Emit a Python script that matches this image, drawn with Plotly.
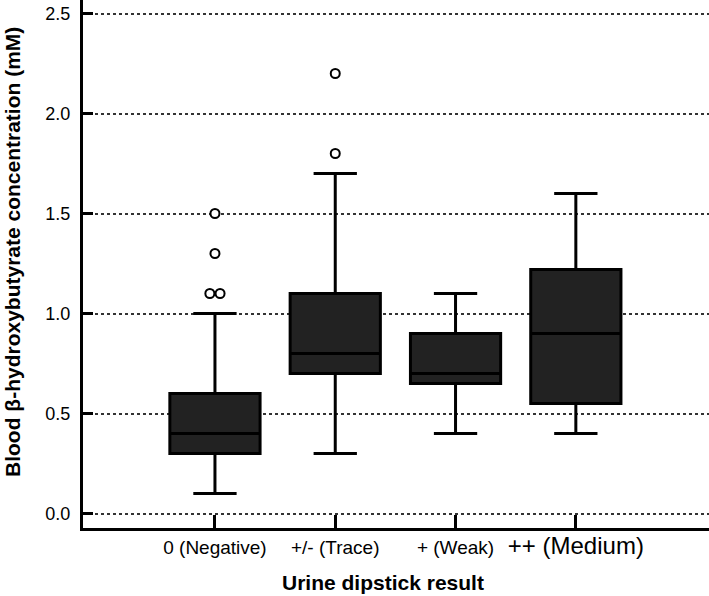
import plotly.graph_objects as go

categories = ["0 (Negative)", "+/- (Trace)", "+ (Weak)", "++ (Medium)"]
q1 = [0.30, 0.70, 0.65, 0.55]
median = [0.40, 0.80, 0.70, 0.90]
q3 = [0.60, 1.10, 0.90, 1.22]
lower_whisker = [0.10, 0.30, 0.40, 0.40]
upper_whisker = [1.00, 1.70, 1.10, 1.60]
outliers = [[1.1, 1.1, 1.3, 1.5], [1.8, 2.2], [], []]
y_ticks = [0.0, 0.5, 1.0, 1.5, 2.0, 2.5]

FONT = "Liberation Sans, Arial, sans-serif"
positions = list(range(len(categories)))
# the last label is set in a larger type in the original figure
tick_labels = categories[:-1] + [f"<span style='font-size:24px'>{categories[-1]}</span>"]

fig = go.Figure()
fig.add_trace(go.Box(
    x=positions,
    q1=q1, median=median, q3=q3,
    lowerfence=lower_whisker, upperfence=upper_whisker,
    width=0.75, whiskerwidth=0.48,
    fillcolor="#222222",
    line=dict(color="#000000", width=3),
    boxpoints=False,
    showlegend=False,
    hoverinfo="skip",
))

# outliers, dodging equal values side by side
ox, oy = [], []
for i, vals in enumerate(outliers):
    for v in sorted(set(vals)):
        n = vals.count(v)
        for k in range(n):
            ox.append(i + (k - (n - 1) / 2) * 0.085)
            oy.append(v)
fig.add_trace(go.Scatter(
    x=ox, y=oy, mode="markers",
    marker=dict(symbol="circle", size=9, color="white",
                line=dict(color="black", width=2)),
    showlegend=False, hoverinfo="skip",
))

fig.update_layout(
    width=709, height=596,
    margin=dict(l=83, r=0, t=0, b=68),
    plot_bgcolor="white", paper_bgcolor="white",
    font=dict(family=FONT, size=19, color="black"),
)
fig.update_xaxes(
    range=[-1.097, 4.107], automargin=False,
    tickmode="array", tickvals=positions, ticktext=tick_labels,
    tickangle=0,
    showline=True, linecolor="black", linewidth=3,
    ticks="inside", ticklen=13, tickwidth=3, tickcolor="black",
    showgrid=False, zeroline=False,
    tickfont=dict(family=FONT, size=19),
)
fig.update_yaxes(
    range=[-0.0725, 2.5675], automargin=False,
    tickmode="array", tickvals=y_ticks, ticktext=[f"{v:.1f}" for v in y_ticks],
    showline=True, linecolor="black", linewidth=3,
    ticks="inside", ticklen=10, tickwidth=3, tickcolor="black",
    showgrid=True, gridcolor="#333333", gridwidth=1.5, griddash="dot",
    zeroline=False,
    tickfont=dict(family=FONT, size=18),
    ticklabelstandoff=6,
)
fig.add_annotation(
    text="<b>Blood β-hydroxybutyrate concentration (mM)</b>",
    xref="paper", yref="paper",
    x=(12 - 83) / 626, y=(528 - 252) / 528,
    textangle=-90, showarrow=False,
    font=dict(family=FONT, size=21, color="black"),
    xanchor="center", yanchor="middle",
)
fig.add_annotation(
    text="<b>Urine dipstick result</b>",
    xref="paper", yref="paper",
    x=(383 - 83) / 626, y=(528 - 582) / 528,
    showarrow=False,
    font=dict(family=FONT, size=21, color="black"),
    xanchor="center", yanchor="middle",
)

fig.write_html(
    "out.html",
    config={"displayModeBar": False},
    post_script=(
        "document.body.style.margin='0';"
        "document.body.style.overflow='hidden';"
        "document.documentElement.style.overflow='hidden';"
    ),
)
